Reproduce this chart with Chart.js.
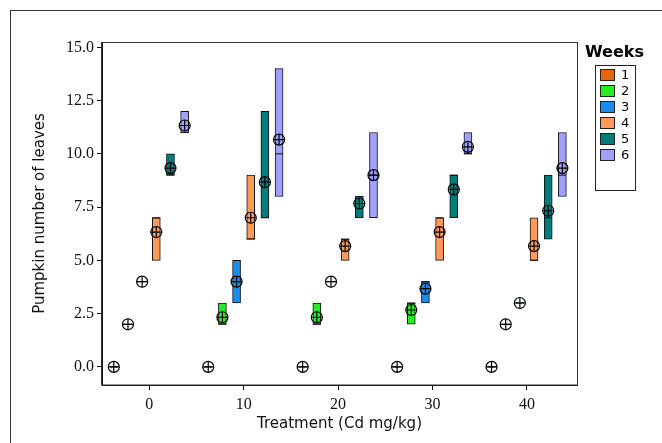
<!DOCTYPE html>
<html>
<head>
<meta charset="utf-8">
<script src="https://cdn.jsdelivr.net/npm/chart.js@4/dist/chart.umd.min.js"></script>
<style>
  html, body { margin: 0; padding: 0; background: #fff; }
  #wrap { width: 662px; height: 443px; position: relative; }
</style>
</head>
<body>
<div id="wrap"><canvas id="leafChart"></canvas></div>
<script>
// Cd treatment levels (mg/kg) and the weeks
const treatments = [0, 10, 20, 30, 40];
const weeks = ['1', '2', '3', '4', '5', '6'];
const weekColors = ['#E4670E', '#22EE22', '#1A8CEE', '#FF9A5A', '#007D7A', '#A0A0FF'];

// per week, one value per treatment
const lowByWeek = [
    [0, 0, 0, 0, 0],
    [2, 2, 2, 2, 2],
    [4, 3, 4, 3, 3],
    [5, 6, 5, 5, 5],
    [9, 7, 7, 7, 6],
    [11, 8, 7, 10, 8]
];
const highByWeek = [
    [0, 0, 0, 0, 0],
    [2, 3, 3, 3, 2],
    [4, 5, 4, 4, 3],
    [7, 9, 6, 7, 7],
    [10, 12, 8, 9, 9],
    [12, 14, 11, 11, 11]
];
const medianByWeek = [
    [0, 0, 0, 0, 0],
    [2, 2, 2, 3, 2],
    [4, 4, 4, 4, 3],
    [7, 6, 6, 7, 5],
    [9, 7, 8, 9, 7],
    [11, 10, 9, 10, 9]
];
const meanByWeek = [
    [0, 0, 0, 0, 0],
    [2, 2.33, 2.33, 2.67, 2],
    [4, 4, 4, 3.67, 3],
    [6.33, 7, 5.67, 6.33, 5.67],
    [9.33, 8.67, 7.67, 8.33, 7.33],
    [11.33, 10.67, 9, 10.33, 9.33]
];
const xTicks = [0, 10, 20, 30, 40];
const yTicks = [0, 2.5, 5, 7.5, 10, 12.5, 15];

// spread the weeks around each treatment value
const weekGap = 1.5;
function xPos(t, w) {
    return treatments[t] + (w - 2.5) * weekGap;
}

const datasets = [];
weeks.forEach(function(label, w) {
    datasets.push({
        type: 'bar',
        label: label,
        data: treatments.map(function(_, t) {
            return { x: xPos(t, w), y: [lowByWeek[w][t], highByWeek[w][t]] };
        }),
        backgroundColor: weekColors[w],
        borderColor: '#111',
        borderWidth: function(ctx) {
            const r = ctx.raw;
            return r && r.y[0] === r.y[1] ? 0 : 1;
        },
        borderSkipped: false,
        barThickness: 8,
        grouped: false,
        order: 3
    });
    datasets.push({
        type: 'scatter',
        label: 'median ' + label,
        data: treatments.map(function(_, t) {
            return { x: xPos(t, w), y: medianByWeek[w][t] };
        }),
        pointStyle: 'line',
        radius: 4,
        borderColor: '#111',
        borderWidth: 1,
        order: 2
    });
    datasets.push({
        type: 'scatter',
        label: 'mean ' + label,
        data: treatments.map(function(_, t) {
            return { x: xPos(t, w), y: meanByWeek[w][t] };
        }),
        pointStyle: 'circle',
        radius: 5.5,
        backgroundColor: 'rgba(0,0,0,0)',
        borderColor: '#000',
        borderWidth: 1.2,
        order: 1
    });
    datasets.push({
        type: 'scatter',
        label: 'meanx ' + label,
        data: treatments.map(function(_, t) {
            return { x: xPos(t, w), y: meanByWeek[w][t] };
        }),
        pointStyle: 'cross',
        radius: 5.5,
        borderColor: '#000',
        borderWidth: 1.2,
        order: 0
    });
});

// frames and the legend box on the right
const framePlugin = {
    id: 'frames',
    afterDraw: function(chart) {
        const ctx = chart.ctx;
        const a = chart.chartArea;
        ctx.save();
        ctx.strokeStyle = '#333';
        ctx.lineWidth = 1;
        ctx.strokeRect(10.5, 10.5, 700, 500);
        ctx.strokeRect(Math.round(a.left) - 0.5, Math.round(a.top) + 0.5,
            Math.round(a.right - a.left) + 1, Math.round(a.bottom - a.top) - 0.5);

        ctx.fillStyle = '#000';
        ctx.font = 'bold 16px "DejaVu Sans"';
        ctx.textAlign = 'left';
        ctx.textBaseline = 'middle';
        ctx.fillText('Weeks', 585, 53);

        ctx.strokeStyle = '#222';
        ctx.strokeRect(595.5, 65.5, 40, 125);
        ctx.font = '13px "DejaVu Sans"';
        weeks.forEach(function(label, i) {
            const y = 69.5 + i * 16;
            ctx.fillStyle = weekColors[i];
            ctx.fillRect(600.5, y, 14, 11);
            ctx.strokeStyle = '#222';
            ctx.strokeRect(600.5, y, 14, 11);
            ctx.fillStyle = '#000';
            ctx.fillText(label, 621, y + 6);
        });
        ctx.restore();
    }
};

const config = {
    type: 'bar',
    data: { datasets: datasets },
    options: {
        responsive: true,
        maintainAspectRatio: false,
        animation: false,
        layout: { padding: { left: 10, top: 42, right: 85, bottom: 10 } },
        scales: {
            x: {
                type: 'linear',
                min: -5,
                max: 45.3,
                offset: false,
                afterBuildTicks: function(s) {
                    s.ticks = xTicks.map(function(v) { return { value: v }; });
                },
                afterFit: function(s) { s.height = 48; },
                grid: { offset: false, drawOnChartArea: false, drawTicks: true, tickLength: 5, color: '#111' },
                border: { display: true, color: '#111' },
                ticks: {
                    color: '#111',
                    padding: 5,
                    font: { family: '"Liberation Serif"', size: 16 },
                    maxRotation: 0
                },
                title: {
                    display: true,
                    text: 'Treatment (Cd mg/kg)',
                    color: '#111',
                    padding: 0,
                    font: { family: '"DejaVu Sans"', size: 15 }
                }
            },
            y: {
                type: 'linear',
                min: -0.85,
                max: 15.25,
                afterBuildTicks: function(s) {
                    s.ticks = yTicks.map(function(v) { return { value: v }; });
                },
                afterFit: function(s) { s.width = 92; },
                grid: { drawOnChartArea: false, drawTicks: true, tickLength: 5, color: '#111' },
                border: { display: true, color: '#111' },
                ticks: {
                    color: '#111',
                    padding: 3,
                    font: { family: '"Liberation Serif"', size: 16 },
                    callback: function(value) {
                        return value.toFixed(1);
                    }
                },
                title: {
                    display: true,
                    text: 'Pumpkin number of leaves',
                    color: '#111',
                    padding: { top: 21, bottom: 0 },
                    font: { family: '"DejaVu Sans"', size: 15 }
                }
            }
        },
        plugins: {
            legend: { display: false },
            tooltip: { enabled: false }
        }
    },
    plugins: [framePlugin]
};

const leafChart = new Chart(document.getElementById('leafChart'), config);
</script>
</body>
</html>
